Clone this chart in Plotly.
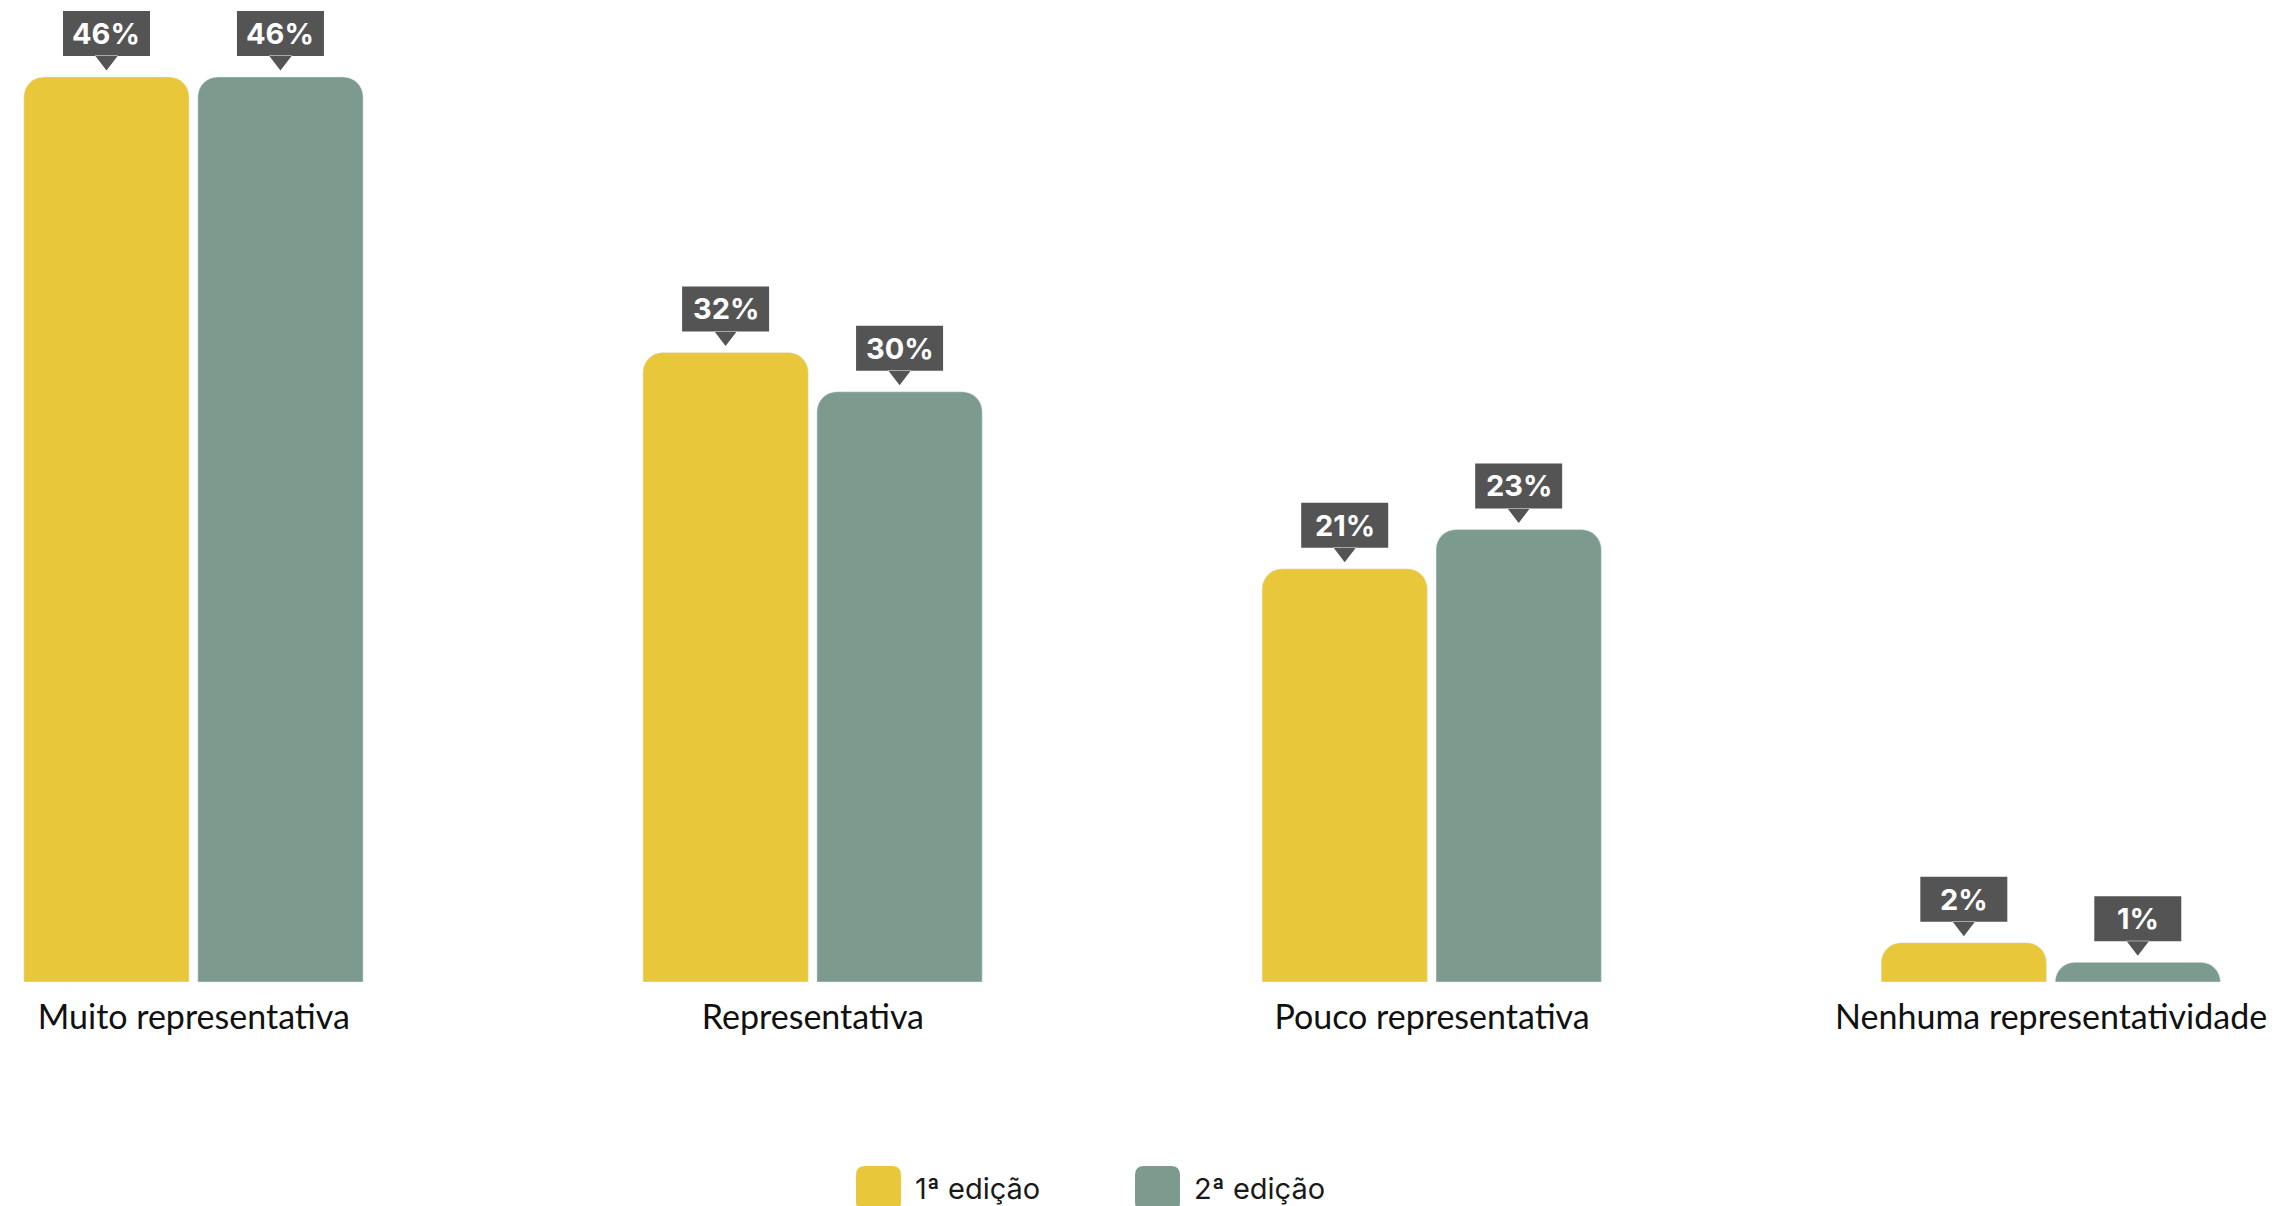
import plotly.graph_objects as go

# Survey answers and the share of respondents in each edition (%)
categories = ["Muito representativa", "Representativa", "Pouco representativa", "Nenhuma representatividade"]
edition_names = ["1ª edição", "2ª edição"]
values_ed1 = [46, 32, 21, 2]
values_ed2 = [46, 30, 23, 1]

YELLOW = "#E9C73B"
GREEN = "#7C9B8E"
BOX = "#545454"

W, H = 2287, 1206
BOTTOM = 224
x_pos = list(range(len(categories)))
BAR_W = 0.267
OFFSETS = [-0.2745, 0.0065]

fig = go.Figure()
for name, vals, color, off in [
    (edition_names[0], values_ed1, YELLOW, OFFSETS[0]),
    (edition_names[1], values_ed2, GREEN, OFFSETS[1]),
]:
    fig.add_trace(go.Bar(
        x=x_pos, y=vals, name=name, marker_color=color,
        width=BAR_W, offset=off, showlegend=False, hoverinfo="skip",
    ))

    # callout above every bar: dark box with a small pointer and the value
    for xi, v in zip(x_pos, vals):
        cx = xi + off + BAR_W / 2
        fig.add_shape(
            type="path", xref="x", yref="y",
            xsizemode="pixel", ysizemode="pixel",
            xanchor=cx, yanchor=v,
            path="M -43.5,21 L 43.5,21 L 43.5,66 L -43.5,66 Z M -11.5,21.5 L 11.5,21.5 L 0,6.5 Z",
            fillcolor=BOX, line=dict(width=0), layer="above",
        )
        fig.add_annotation(
            x=cx, y=v, xref="x", yref="y", yshift=43.5,
            text=f"{v}%", showarrow=False, yanchor="middle", xanchor="center",
            font=dict(family="Inter", size=29, color="white", weight=700),
        )

# legend drawn as rounded swatches with labels below the chart
plot_h = H - BOTTOM


def py(p):
    return (plot_h - p) / plot_h


legend_items = [(edition_names[0], YELLOW, 856), (edition_names[1], GREEN, 1135)]
for label, color, x0 in legend_items:
    x1 = x0 + 45
    y0, y1 = 1166, 1211
    r = 9
    path = (f"M {x0 + r},{y0} L {x1 - r},{y0} Q {x1},{y0} {x1},{y0 + r} "
            f"L {x1},{y1 - r} Q {x1},{y1} {x1 - r},{y1} L {x0 + r},{y1} "
            f"Q {x0},{y1} {x0},{y1 - r} L {x0},{y0 + r} Q {x0},{y0} {x0 + r},{y0} Z")
    pts = []
    for seg in path.split(" "):
        if "," in seg:
            a, b = seg.split(",")
            pts.append(f"{float(a) / W:.6f},{py(float(b)):.6f}")
        else:
            pts.append(seg)
    fig.add_shape(type="path", xref="paper", yref="paper", path=" ".join(pts),
                  fillcolor=color, line=dict(width=0))
    fig.add_annotation(
        x=(x1 + 12) / W, y=py(1188), xref="paper", yref="paper",
        text=label, showarrow=False, xanchor="left", yanchor="middle",
        font=dict(family="Inter", size=29, color="#1a1a1a"),
    )

fig.update_layout(
    width=W, height=H,
    margin=dict(l=0, r=0, t=0, b=BOTTOM),
    paper_bgcolor="white", plot_bgcolor="white",
    barcornerradius=20,
    showlegend=False,
    xaxis=dict(
        range=[-0.313, 3.381], tickvals=x_pos, ticktext=categories,
        showgrid=False, zeroline=False, showline=False, ticks="",
        tickfont=dict(family="Lato", size=34, color="#111111"),
        ticklabelstandoff=12,
    ),
    yaxis=dict(range=[0, 49.91], visible=False, showgrid=False, zeroline=False),
)

fig.write_html("out.html")
